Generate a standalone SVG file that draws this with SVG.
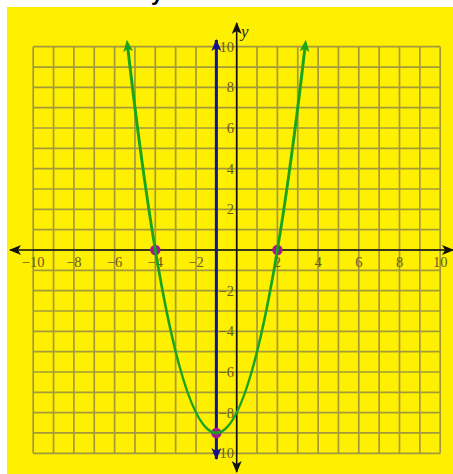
<svg xmlns="http://www.w3.org/2000/svg" width="453" height="474" viewBox="0 0 453 474">
<style>
.grid{fill:none;stroke:#a39a3c;stroke-width:1.7}
.lbl{font-family:"Liberation Serif","DejaVu Serif",serif;font-size:14.5px;fill:#6a5a22}
.xl{text-anchor:middle}
.yl{text-anchor:end}
.axis{stroke:#111;stroke-width:1.6;fill:none}
.sym{stroke:#12128a;stroke-width:3;fill:none}
.par{stroke:#1aa51c;stroke-width:3;fill:none}
.pt{fill:#a5168f}
</style>
<defs>
<marker id="ah-black" viewBox="0 0 12 10" refX="11" refY="5" markerWidth="12" markerHeight="10" markerUnits="userSpaceOnUse" orient="auto-start-reverse"><path d="M0,0 L12,5 L0,10 L3,5 z" fill="#111"/></marker>
<marker id="ah-blue" viewBox="0 0 12 10" refX="11" refY="5" markerWidth="12" markerHeight="10" markerUnits="userSpaceOnUse" orient="auto-start-reverse"><path d="M0,0 L12,5 L0,10 L3,5 z" fill="#12128a"/></marker>
<marker id="ah-green" viewBox="0 0 12 10" refX="5" refY="5" markerWidth="12" markerHeight="10" markerUnits="userSpaceOnUse" orient="auto-start-reverse"><path d="M0,0 L12,5 L0,10 L3,5 z" fill="#1aa51c"/></marker>
</defs>
<rect x="0" y="0" width="453" height="474" fill="#ffffff"/>
<rect x="7" y="7" width="446" height="467" fill="#fef000"/>
<text x="151" y="0" font-family="Liberation Sans, Arial, sans-serif" font-weight="bold" font-size="22" fill="#000">y</text>
<g id="grid">
<path class="grid" d="M33.2,46.7V453.3M53.55,46.7V453.3M73.9,46.7V453.3M94.25,46.7V453.3M114.6,46.7V453.3M134.95,46.7V453.3M155.3,46.7V453.3M175.65,46.7V453.3M196,46.7V453.3M216.35,46.7V453.3M236.7,46.7V453.3M257.05,46.7V453.3M277.4,46.7V453.3M297.75,46.7V453.3M318.1,46.7V453.3M338.45,46.7V453.3M358.8,46.7V453.3M379.15,46.7V453.3M399.5,46.7V453.3M419.85,46.7V453.3M440.2,46.7V453.3"/>
<path class="grid" d="M33.2,46.7H440.2M33.2,67.03H440.2M33.2,87.36H440.2M33.2,107.69H440.2M33.2,128.02H440.2M33.2,148.35H440.2M33.2,168.68H440.2M33.2,189.01H440.2M33.2,209.34H440.2M33.2,229.67H440.2M33.2,250H440.2M33.2,270.33H440.2M33.2,290.66H440.2M33.2,310.99H440.2M33.2,331.32H440.2M33.2,351.65H440.2M33.2,371.98H440.2M33.2,392.31H440.2M33.2,412.64H440.2M33.2,432.97H440.2M33.2,453.3H440.2"/>
</g>
<g id="x-labels" class="lbl xl">
<text x="33.2" y="267">−10</text>
<text x="73.9" y="267">−8</text>
<text x="114.6" y="267">−6</text>
<text x="155.3" y="267">−4</text>
<text x="196" y="267">−2</text>
<text x="277.4" y="267">2</text>
<text x="318.1" y="267">4</text>
<text x="358.8" y="267">6</text>
<text x="399.5" y="267">8</text>
<text x="440.2" y="267">10</text>
</g>
<g id="y-labels" class="lbl yl">
<text x="234" y="51.7">10</text>
<text x="234" y="92.4">8</text>
<text x="234" y="133">6</text>
<text x="234" y="173.7">4</text>
<text x="234" y="214.3">2</text>
<text x="234" y="295.7">−2</text>
<text x="234" y="336.3">−4</text>
<text x="234" y="377">−6</text>
<text x="234" y="417.6">−8</text>
<text x="234" y="458.3">−10</text>
</g>
<g id="connectors">
<path id="x-axis" class="axis" d="M10,250H453" marker-start="url(#ah-black)" marker-end="url(#ah-black)"/>
<path id="y-axis" class="axis" d="M236.7,472V23" marker-start="url(#ah-black)" marker-end="url(#ah-black)"/>
<path id="axis-of-symmetry" class="sym" d="M216.35,459V40" marker-start="url(#ah-blue)" marker-end="url(#ah-blue)"/>
</g>
<text x="241" y="37" font-family="Liberation Serif, serif" font-style="italic" font-size="17" fill="#2a1e10">y</text>
<g id="root-left"><circle class="pt" cx="155.3" cy="250" r="5.2"/></g>
<g id="root-right"><circle class="pt" cx="277.4" cy="250" r="5.2"/></g>
<g id="vertex"><circle class="pt" cx="216.35" cy="432.97" r="5.2"/></g>
<g id="parabola">
<path class="par" d="M127.64,46.7 Q216.35,819.2 305.06,46.7" marker-start="url(#ah-green)" marker-end="url(#ah-green)"/>
</g>
</svg>
